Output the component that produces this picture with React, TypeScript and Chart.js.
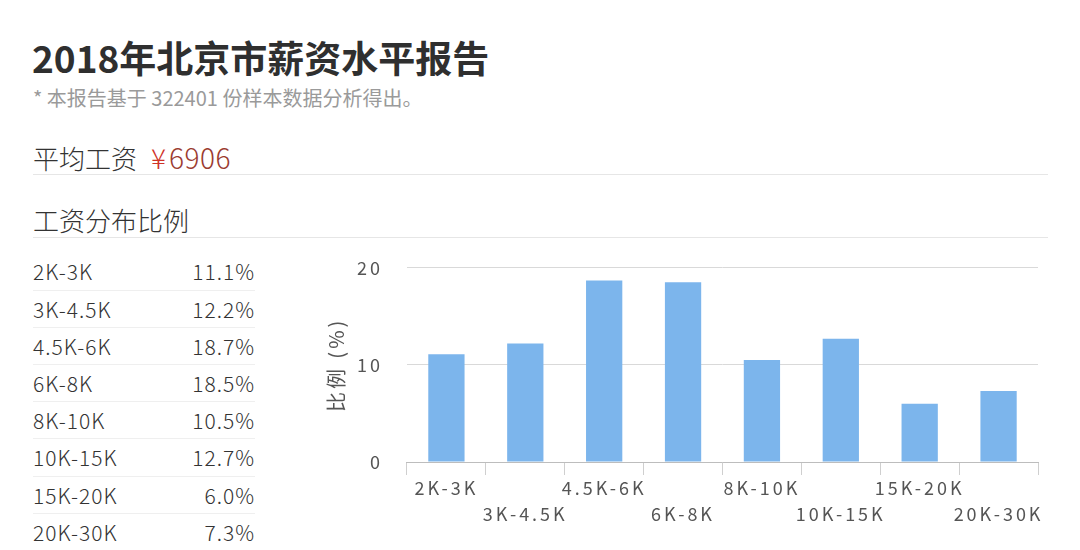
import React, { useRef, useEffect } from 'react';
import { Chart, registerables } from 'chart.js';

Chart.register(...registerables);

// данные с картинки
const title = '2018年北京市薪资水平报告';
const subtitle = '* 本报告基于 322401 份样本数据分析得出。';
const avgLabel = '平均工资';
const avgCurrency = '¥';
const avgValue = '6906';
const sectionLabel = '工资分布比例';
const categories = ['2K-3K', '3K-4.5K', '4.5K-6K', '6K-8K', '8K-10K', '10K-15K', '15K-20K', '20K-30K'];
const shares = [11.1, 12.2, 18.7, 18.5, 10.5, 12.7, 6.0, 7.3];
const yTicks = [0, 10, 20];
const yTitle = '比例 (%)';

const FONT = '"Noto Sans CJK SC", "Noto Sans", sans-serif';

// разрядка букв на канвасе, как на исходной картинке
const spacingPlugin = {
  id: 'letterSpacing',
  beforeDraw: (chart: Chart) => {
    (chart.ctx as any).letterSpacing = '3px';
  },
};

const SalaryChart: React.FC = () => {
  const chartRef = useRef<HTMLCanvasElement>(null);
  const chartInstance = useRef<Chart | null>(null);

  useEffect(() => {
    if (!chartRef.current) return;
    if (chartInstance.current) chartInstance.current.destroy();
    const ctx = chartRef.current.getContext('2d');
    if (!ctx) return;

    // подписи через одну опускаем на вторую строку
    const labels = categories.map((c, i) => (i % 2 === 0 ? c : ['', c]));

    chartInstance.current = new Chart(ctx, {
      type: 'bar',
      data: {
        labels: labels as any,
        datasets: [
          {
            data: shares,
            backgroundColor: '#7cb5ec',
            borderWidth: 0,
            barPercentage: 0.46,
            categoryPercentage: 1,
          },
        ],
      },
      plugins: [spacingPlugin],
      options: {
        responsive: true,
        maintainAspectRatio: false,
        animation: false,
        layout: { padding: { top: 0, right: 14, left: 0, bottom: 4 } },
        plugins: {
          legend: { display: false },
          tooltip: { enabled: false },
        },
        scales: {
          x: {
            grid: {
              display: true,
              drawOnChartArea: false,
              drawTicks: true,
              tickLength: 13,
              color: '#cfcfcf',
              offset: true,
            },
            border: { display: true, color: '#bdbdbd' },
            ticks: {
              autoSkip: false,
              maxRotation: 0,
              minRotation: 0,
              padding: 0,
              color: '#555',
              font: { family: FONT, size: 18, lineHeight: 26 / 18 },
            },
          },
          y: {
            min: yTicks[0],
            max: yTicks[yTicks.length - 1],
            afterBuildTicks: (axis) => {
              axis.ticks = yTicks.map((v) => ({ value: v }));
            },
            grid: { color: '#d9d9d9', drawTicks: false },
            border: { display: false },
            ticks: {
              padding: 24,
              color: '#555',
              font: { family: FONT, size: 18 },
            },
            title: {
              display: true,
              text: yTitle,
              color: '#555',
              padding: { top: 17, bottom: -9 },
              font: { family: FONT, size: 20 },
            },
          },
        },
      },
    });

    return () => {
      if (chartInstance.current) chartInstance.current.destroy();
    };
  }, []);

  return (
    <div style={{ position: 'absolute', left: 307, top: 233, width: 745, height: 298 }}>
      <canvas ref={chartRef} />
    </div>
  );
};

const App: React.FC = () => {
  const rowStep = 37.2;
  const firstRowCenter = 272;

  return (
    <div
      style={{
        position: 'fixed',
        left: 0,
        top: 0,
        width: 1080,
        height: 550,
        background: '#fff',
        fontFamily: FONT,
        color: '#333',
        overflow: 'hidden',
      }}
    >
      <div style={{ position: 'absolute', left: 32, top: 37, fontSize: 37, lineHeight: '40px', fontWeight: 700, color: '#2f2f2f' }}>
        {title}
      </div>
      <div style={{ position: 'absolute', left: 33, top: 86, fontSize: 20, lineHeight: '24px', color: '#9a9a9a' }}>
        {subtitle}
      </div>

      <div style={{ position: 'absolute', left: 33, top: 142, fontSize: 26, lineHeight: '30px', color: '#333', fontWeight: 300 }}>
        {avgLabel}
        <span style={{ color: '#cf3328', marginLeft: 14, fontSize: 28 }}>{avgCurrency}</span>
        <span style={{ color: '#9b3b30', marginLeft: 3, fontSize: 28, letterSpacing: '0.5px' }}>{avgValue}</span>
      </div>
      <div style={{ position: 'absolute', left: 33, top: 174, width: 1015, height: 1, background: '#e6e6e6' }} />

      <div style={{ position: 'absolute', left: 33, top: 205, fontSize: 26, lineHeight: '30px', color: '#333', fontWeight: 300 }}>
        {sectionLabel}
      </div>
      <div style={{ position: 'absolute', left: 33, top: 237, width: 1015, height: 1, background: '#e6e6e6' }} />

      {categories.map((c, i) => (
        <div
          key={c}
          style={{
            position: 'absolute',
            left: 33,
            top: firstRowCenter - rowStep / 2 + i * rowStep,
            width: 222,
            height: rowStep,
            lineHeight: `${rowStep}px`,
            fontSize: 21,
            fontWeight: 300,
            letterSpacing: '1px',
            color: '#333',
            borderBottom: '1px solid #efefef',
            boxSizing: 'border-box',
          }}
        >
          <span>{c}</span>
          <span style={{ position: 'absolute', right: 0 }}>{shares[i].toFixed(1)}%</span>
        </div>
      ))}

      <SalaryChart />
    </div>
  );
};

export default App;
